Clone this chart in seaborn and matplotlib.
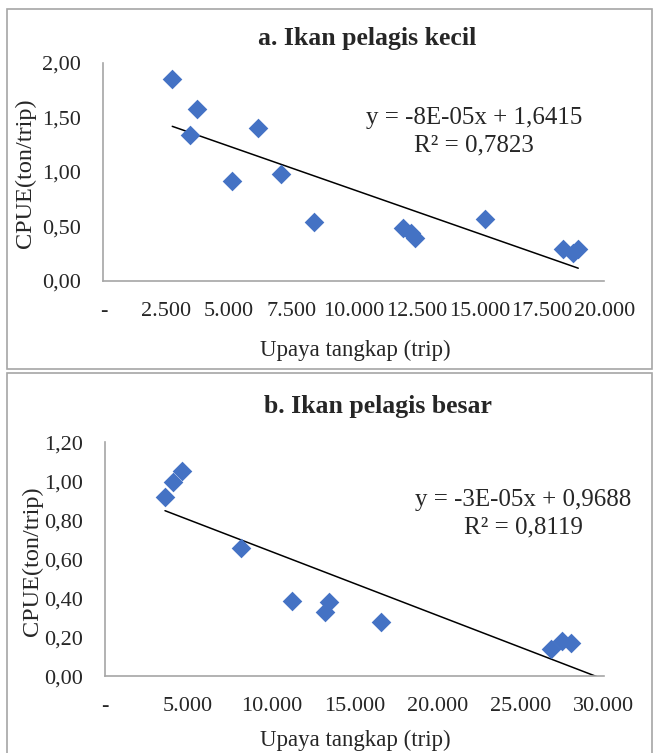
import numpy as np
import pandas as pd
import matplotlib
matplotlib.use("Agg")
import matplotlib.pyplot as plt
import matplotlib.patches as patches
import seaborn as sns

# ---- data ----
effort_a = [2745, 3727, 3461, 6156, 5125, 7072, 8386, 11963, 12263, 12430, 15225, 18336, 18752, 18952]
cpue_a = [1.85, 1.58, 1.34, 1.40, 0.92, 0.98, 0.54, 0.49, 0.44, 0.39, 0.57, 0.29, 0.26, 0.29]

effort_b = [3607, 4088, 4611, 8180, 11240, 13226, 13467, 16593, 26814, 27475, 28016]
cpue_b = [0.92, 0.995, 1.055, 0.656, 0.385, 0.328, 0.38, 0.277, 0.14, 0.18, 0.17]

xticks_a = [0, 2500, 5000, 7500, 10000, 12500, 15000, 17500, 20000]
xticklabels_a = ["-", "2.500", "5.000", "7.500", "10.000", "12.500", "15.000", "17.500", "20.000"]
yticks_a = [0, 0.5, 1.0, 1.5, 2.0]
yticklabels_a = ["0,00", "0,50", "1,00", "1,50", "2,00"]

xticks_b = [0, 5000, 10000, 15000, 20000, 25000, 30000]
xticklabels_b = ["-", "5.000", "10.000", "15.000", "20.000", "25.000", "30.000"]
yticks_b = [0, 0.2, 0.4, 0.6, 0.8, 1.0, 1.2]
yticklabels_b = ["0,00", "0,20", "0,40", "0,60", "0,80", "1,00", "1,20"]

title_a = "a. Ikan pelagis kecil"
title_b = "b. Ikan pelagis besar"
eq_a = "y = -8E-05x + 1,6415\nR² = 0,7823"
eq_b = "y = -3E-05x + 0,9688\nR² = 0,8119"
xlabel = "Upaya tangkap (trip)"
ylabel = "CPUE(ton/trip)"

# ---- style ----
sns.set_style("white")
plt.rcParams["font.family"] = ["Liberation Serif", "DejaVu Serif"]

W, H = 653, 753
fig = plt.figure(figsize=(W / 100, H / 100), dpi=100)

GRAY = "#A6A6A6"
BLUE = "#4472C4"
TICK_FS = 16
TITLE_FS = 18.5
EQ_FS = 18
XLAB_FS = 16.5
YLAB_FS = 17.5

def px_axes(l, t, r, b):
    return fig.add_axes([l / W, 1 - b / H, (r - l) / W, (b - t) / H])

# panel borders
fig.patches.append(patches.Rectangle((7 / W, 1 - 369 / H), 645 / W, 360 / H,
                                     transform=fig.transFigure, fill=False,
                                     edgecolor=GRAY, lw=1.2))
fig.patches.append(patches.Rectangle((7 / W, -0.02), 645 / W, (1 - 373 / H) + 0.02,
                                     transform=fig.transFigure, fill=False,
                                     edgecolor=GRAY, lw=1.2))

def draw(ax, x, y, xmax, ymax, xt, xtl, yt, ytl, extend_to, eq, eqpos):
    df = pd.DataFrame({"x": x, "y": y})
    slope, intercept = np.polyfit(df["x"], df["y"], 1)
    x_end = extend_to if extend_to is not None else df["x"].max()
    line = pd.DataFrame({"x": [df["x"].min(), x_end]})
    line["y"] = slope * line["x"] + intercept
    sns.lineplot(data=line, x="x", y="y", ax=ax, color="black", lw=1.1)
    sns.scatterplot(data=df, x="x", y="y", ax=ax, marker="D", s=100,
                    color=BLUE, linewidth=0, zorder=3)
    ax.set_xlim(0, xmax)
    ax.set_ylim(0, ymax)
    ax.set_xticks(xt)
    ax.set_xticklabels(xtl, fontsize=TICK_FS)
    ax.set_yticks(yt)
    ax.set_yticklabels(ytl, fontsize=TICK_FS)
    ax.tick_params(axis="both", length=6, width=1, color=GRAY, direction="out")
    ax.tick_params(axis="y", pad=10)
    ax.tick_params(axis="x", pad=9)
    for s in ["top", "right"]:
        ax.spines[s].set_visible(False)
    for s in ["left", "bottom"]:
        ax.spines[s].set_color(GRAY)
        ax.spines[s].set_linewidth(1.2)
    ax.set_xlabel("")
    ax.set_ylabel("")
    ax.text(eqpos[0], eqpos[1], eq, transform=ax.transAxes, ha="center", va="center",
            fontsize=EQ_FS, linespacing=1.32)

ax_a = px_axes(103.5, 63, 604.5, 281)
draw(ax_a, effort_a, cpue_a, 20000, 2.0, xticks_a, xticklabels_a, yticks_a, yticklabels_a,
     None, eq_a, (0.7395, 0.683))
fig.text(367 / W, 1 - 38 / H, title_a, ha="center", va="center",
         fontsize=TITLE_FS, fontweight="bold")
fig.text(25 / W, 1 - 173 / H, ylabel, rotation=90, ha="center", va="center", fontsize=YLAB_FS)
fig.text(355 / W, 1 - 350 / H, xlabel, ha="center", va="center", fontsize=XLAB_FS)

ax_b = px_axes(105, 442.3, 604, 676.3)
draw(ax_b, effort_b, cpue_b, 30000, 1.2, xticks_b, xticklabels_b, yticks_b, yticklabels_b,
     30000, eq_b, (0.838, 0.694))
fig.text(378 / W, 1 - 406 / H, title_b, ha="center", va="center",
         fontsize=TITLE_FS, fontweight="bold")
fig.text(32 / W, 1 - 561 / H, ylabel, rotation=90, ha="center", va="center", fontsize=YLAB_FS)
fig.text(355 / W, 1 - 740 / H, xlabel, ha="center", va="center", fontsize=XLAB_FS)

fig.savefig("out.png", dpi=100)
